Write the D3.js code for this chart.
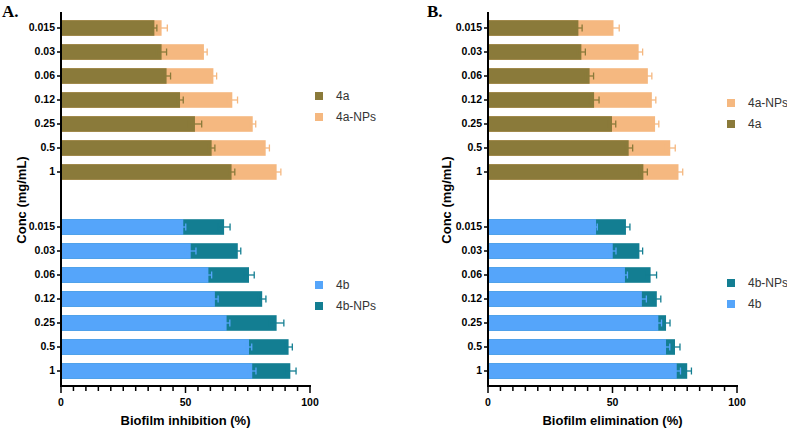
<!DOCTYPE html>
<html>
<head>
<meta charset="utf-8">
<script src="https://cdn.jsdelivr.net/npm/d3@7"></script>
<style>
  body { margin: 0; background: #fff; }
  svg { display: block; }
  .tick text { font-family: "Liberation Sans Narrow", "Liberation Sans", Arial, sans-serif; font-weight: bold; font-size: 10.5px; fill: #000; }
</style>
</head>
<body>
<svg id="chart" width="787" height="430"></svg>
<script>
var concs = ['0.015', '0.03', '0.06', '0.12', '0.25', '0.5', '1'];
var xTicks = [0, 50, 100];

// panel A - biofilm inhibition
var inh4a = [37.5, 40.4, 42.4, 47.8, 53.8, 60.5, 68.5];
var inh4aErr = [1.0, 2.0, 1.6, 1.3, 2.7, 1.3, 1.3];
var inh4aNP = [40.4, 57.4, 61.2, 68.8, 77.0, 82.2, 86.6];
var inh4aNPErr = [2.3, 1.3, 1.3, 2.1, 1.2, 1.5, 1.7];
var inh4b = [49.1, 52.1, 59.2, 61.8, 66.5, 75.5, 76.8];
var inh4bErr = [1.0, 2.1, 1.3, 1.3, 1.3, 1.1, 1.5];
var inh4bNP = [65.5, 71.0, 75.5, 80.8, 86.6, 91.4, 92.1];
var inh4bNPErr = [2.4, 1.2, 2.1, 1.5, 2.9, 1.5, 2.3];

// panel B - biofilm elimination
var eli4a = [36.3, 37.5, 40.8, 42.6, 49.8, 56.5, 62.4];
var eli4aErr = [1.5, 1.6, 1.6, 2.0, 1.5, 1.6, 1.6];
var eli4aNP = [50.4, 60.5, 64.2, 65.8, 67.1, 73.2, 76.5];
var eli4aNPErr = [2.3, 1.6, 1.6, 1.6, 1.5, 2.0, 1.7];
var eli4b = [43.4, 50.1, 55.0, 61.8, 68.4, 71.5, 75.8];
var eli4bErr = [0.5, 1.3, 1.0, 1.8, 1.3, 1.5, 1.5];
var eli4bNP = [55.4, 60.8, 65.3, 67.8, 71.5, 75.1, 80.0];
var eli4bNPErr = [1.6, 1.3, 2.4, 1.6, 1.6, 2.0, 1.7];

var colors = {
	'4a': '#8a7a3a',
	'4a-NPs': '#f5b880',
	'4b': '#55a5fa',
	'4b-NPs': '#137e92'
};

var svg = d3.select('#chart');

var yTop = d3.scaleBand().domain(concs).range([16, 184]).paddingInner(0.35).paddingOuter(0.175);
var yBot = d3.scaleBand().domain(concs).range([215, 383]).paddingInner(0.35).paddingOuter(0.175);

function drawPanel(cfg) {
	var g = svg.append('g');
	var x = d3.scaleLinear().domain([0, 100]).range([cfg.x0, cfg.x0 + 249]);
	var axisY = 386;

	cfg.groups.forEach(function (grp) {
		var y = grp.scale;
		// back bars first (longer), then front
		[grp.back, grp.front].forEach(function (s) {
			g.selectAll(null)
				.data(s.values)
				.enter()
				.append('rect')
				.attr('x', x(0))
				.attr('y', function (d, i) { return y(concs[i]); })
				.attr('width', function (d) { return x(d) - x(0); })
				.attr('height', y.bandwidth())
				.attr('fill', colors[s.name]);
		});

		[grp.back, grp.front].forEach(function (s) {
			var eb = g.selectAll(null)
				.data(s.values)
				.enter()
				.append('g')
				.attr('stroke', colors[s.name])
				.attr('stroke-width', 1.3)
				.attr('transform', function (d, i) { return 'translate(0,' + (y(concs[i]) + y.bandwidth() / 2) + ')'; });

			eb.append('line')
				.attr('x1', function (d, i) { return x(d - s.err[i]); })
				.attr('x2', function (d, i) { return x(d + s.err[i]); });
			eb.append('line')
				.attr('x1', function (d, i) { return x(d - s.err[i]); })
				.attr('x2', function (d, i) { return x(d - s.err[i]); })
				.attr('y1', -3.5).attr('y2', 3.5);
			eb.append('line')
				.attr('x1', function (d, i) { return x(d + s.err[i]); })
				.attr('x2', function (d, i) { return x(d + s.err[i]); })
				.attr('y1', -3.5).attr('y2', 3.5);
		});

		var ax = g.append('g')
			.attr('transform', 'translate(' + x(0) + ',0)')
			.call(d3.axisLeft(y).tickSize(4).tickPadding(2));
		ax.select('.domain').remove();
		ax.selectAll('.tick line').attr('stroke', '#000').attr('stroke-width', 1.5);

		// legend
		grp.legend.forEach(function (name, i) {
			var ly = grp.legendY + i * 21;
			g.append('rect')
				.attr('x', cfg.legendX)
				.attr('y', ly - 4)
				.attr('width', 8)
				.attr('height', 8)
				.attr('fill', colors[name]);
			g.append('text')
				.attr('x', cfg.legendX + 21)
				.attr('y', ly + 4)
				.attr('font-family', 'Liberation Sans, Arial, sans-serif')
				.attr('font-size', 12)
				.attr('fill', '#333')
				.text(name);
		});
	});

	// y axis line
	g.append('line')
		.attr('x1', x(0)).attr('x2', x(0))
		.attr('y1', 12).attr('y2', axisY + 1)
		.attr('stroke', '#000').attr('stroke-width', 2);

	// x axis with minor ticks
	g.selectAll(null)
		.data(d3.range(0, 101, 5))
		.enter()
		.append('line')
		.attr('x1', function (d) { return x(d); })
		.attr('x2', function (d) { return x(d); })
		.attr('y1', axisY)
		.attr('y2', function (d) { return d % 50 === 0 ? axisY + 7 : axisY + 5; })
		.attr('stroke', '#000')
		.attr('stroke-width', 1.5);

	g.append('line')
		.attr('x1', x(0) - 1).attr('x2', x(100) + 1)
		.attr('y1', axisY).attr('y2', axisY)
		.attr('stroke', '#000').attr('stroke-width', 2);

	g.selectAll(null)
		.data(xTicks)
		.enter()
		.append('text')
		.attr('x', function (d) { return x(d); })
		.attr('y', axisY + 20)
		.attr('text-anchor', 'middle')
		.attr('font-family', 'Liberation Sans Narrow, Liberation Sans, Arial, sans-serif')
		.attr('font-weight', 'bold')
		.attr('font-size', 10.5)
		.text(function (d) { return d; });

	g.append('text')
		.attr('x', x(50))
		.attr('y', 425)
		.attr('text-anchor', 'middle')
		.attr('font-family', 'Liberation Sans, Arial, sans-serif')
		.attr('font-weight', 'bold')
		.attr('font-size', 13)
		.text(cfg.xTitle);

	g.append('text')
		.attr('transform', 'translate(' + cfg.yTitleX + ',200) rotate(-90)')
		.attr('text-anchor', 'middle')
		.attr('font-family', 'Liberation Sans, Arial, sans-serif')
		.attr('font-weight', 'bold')
		.attr('font-size', 13)
		.text('Conc (mg/mL)');

	g.append('text')
		.attr('x', cfg.labelX)
		.attr('y', 17)
		.attr('font-family', 'Liberation Serif, Times New Roman, serif')
		.attr('font-weight', 'bold')
		.attr('font-size', 17)
		.text(cfg.label);
}

drawPanel({
	x0: 61,
	label: 'A.',
	labelX: 2,
	yTitleX: 26,
	xTitle: 'Biofilm inhibition (%)',
	legendX: 315,
	groups: [
		{ scale: yTop, back: { name: '4a-NPs', values: inh4aNP, err: inh4aNPErr }, front: { name: '4a', values: inh4a, err: inh4aErr }, legend: ['4a', '4a-NPs'], legendY: 96 },
		{ scale: yBot, back: { name: '4b-NPs', values: inh4bNP, err: inh4bNPErr }, front: { name: '4b', values: inh4b, err: inh4bErr }, legend: ['4b', '4b-NPs'], legendY: 285 }
	]
});

drawPanel({
	x0: 488,
	label: 'B.',
	labelX: 427,
	yTitleX: 451,
	xTitle: 'Biofilm elimination (%)',
	legendX: 727,
	groups: [
		{ scale: yTop, back: { name: '4a-NPs', values: eli4aNP, err: eli4aNPErr }, front: { name: '4a', values: eli4a, err: eli4aErr }, legend: ['4a-NPs', '4a'], legendY: 103 },
		{ scale: yBot, back: { name: '4b-NPs', values: eli4bNP, err: eli4bNPErr }, front: { name: '4b', values: eli4b, err: eli4bErr }, legend: ['4b-NPs', '4b'], legendY: 283 }
	]
});
</script>
</body>
</html>
